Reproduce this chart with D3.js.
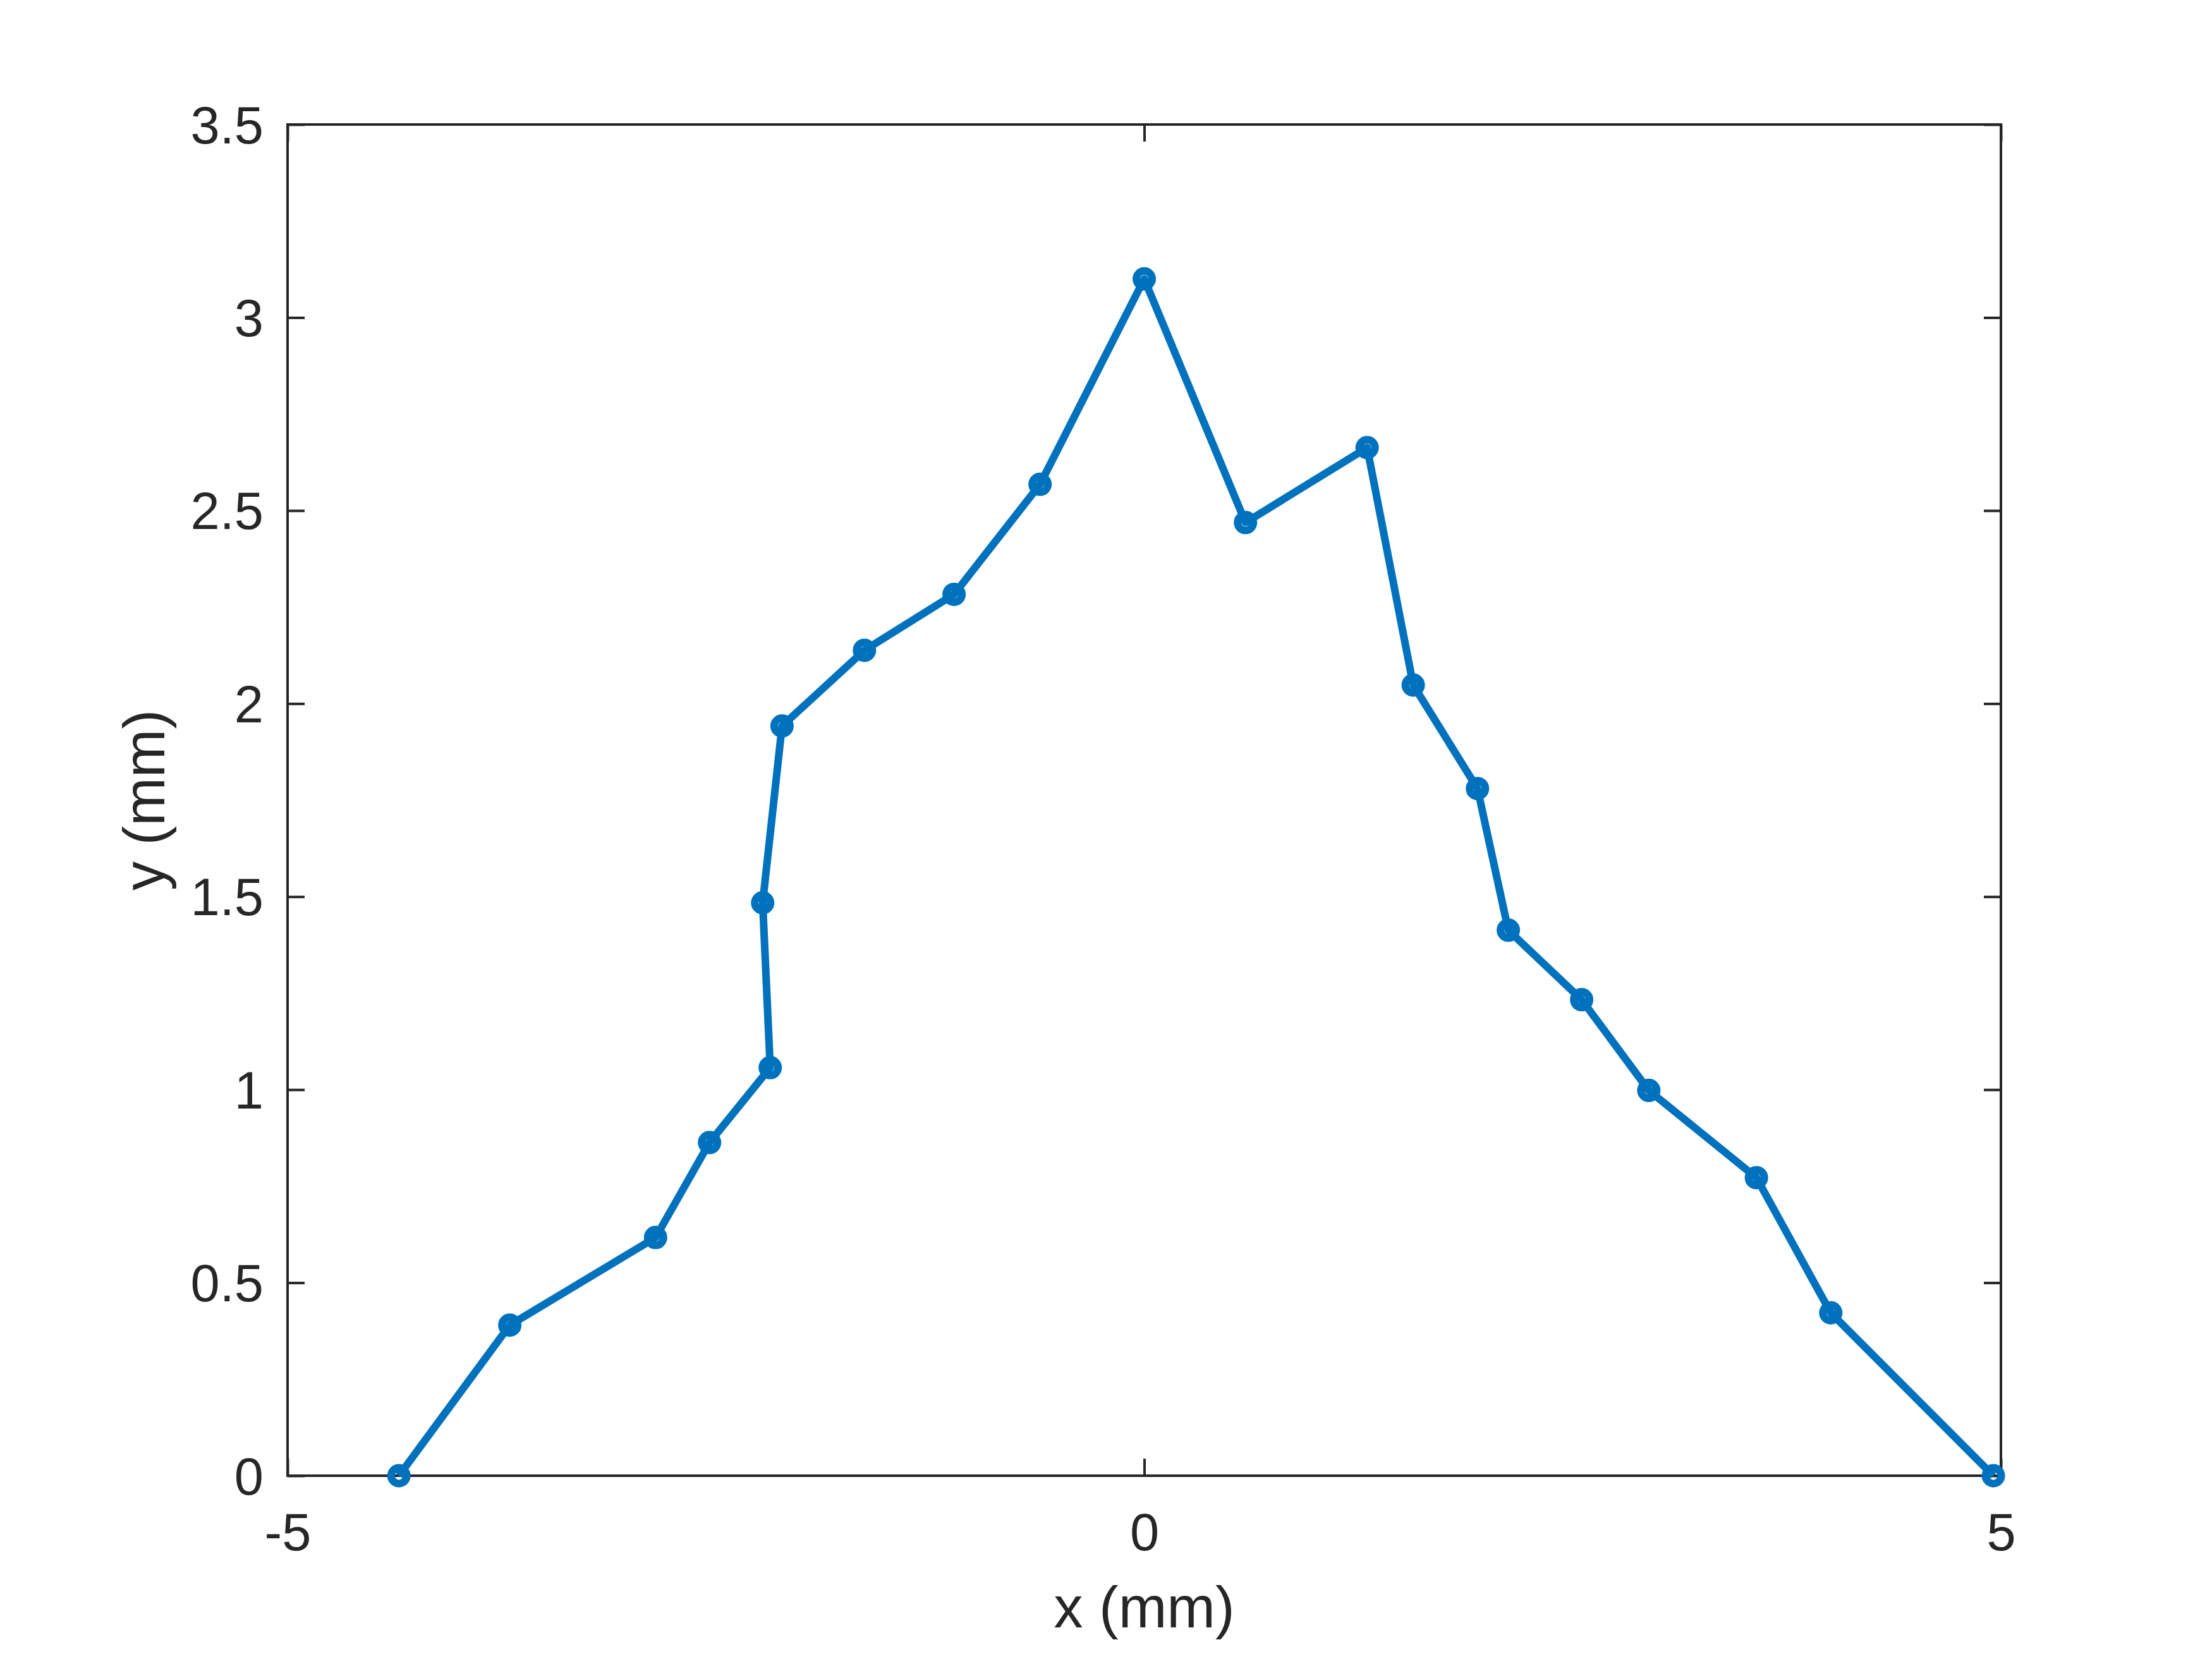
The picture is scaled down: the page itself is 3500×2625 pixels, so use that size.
<!DOCTYPE html>
<html>
<head>
<meta charset="utf-8">
<script src="https://cdn.jsdelivr.net/npm/d3@7"></script>
<style>
  html, body { margin: 0; padding: 0; background: #ffffff; }
  svg { display: block; }
</style>
</head>
<body>
<div id="chart"></div>
<script>
// ---- data ----
const xValues = [-4.350, -3.703, -2.852, -2.537, -2.183, -2.227, -2.114, -1.633, -1.110, -0.608,
                 0.000, 0.591, 1.301, 1.570, 1.945, 2.125, 2.553, 2.945, 3.573, 4.007, 4.956];
const yValues = [0.000, 0.390, 0.617, 0.863, 1.057, 1.484, 1.942, 2.138, 2.283, 2.568,
                 3.100, 2.469, 2.663, 2.048, 1.780, 1.413, 1.233, 0.998, 0.772, 0.422, 0.000];
const xTicks = [-5, 0, 5];
const yTicks = [0, 0.5, 1, 1.5, 2, 2.5, 3, 3.5];
const xLabel = "x (mm)";
const yLabel = "y (mm)";

// ---- layout ----
const W = 3500, H = 2625;
const pL = 455, pR = 3166, pT = 197, pB = 2335;
const axisColor = "#262626";
const lineColor = "#0072BD";
const font = "Helvetica, Arial, 'Liberation Sans', sans-serif";
const tickLen = 27;

const svg = d3.select("#chart").append("svg")
  .attr("width", W).attr("height", H);

const x = d3.scaleLinear().domain([-5, 5]).range([pL, pR]);
const y = d3.scaleLinear().domain([0, 3.5]).range([pB, pT]);

const axes = svg.append("g");

const gxb = axes.append("g").attr("transform", `translate(0,${pB})`)
  .call(d3.axisBottom(x).tickValues(xTicks).tickSize(-tickLen).tickFormat(d => String(d)));
const gxt = axes.append("g").attr("transform", `translate(0,${pT})`)
  .call(d3.axisTop(x).tickValues(xTicks).tickSize(-tickLen).tickFormat(""));
const gyl = axes.append("g").attr("transform", `translate(${pL},0)`)
  .call(d3.axisLeft(y).tickValues(yTicks).tickSize(-tickLen).tickFormat(d => String(d)));
const gyr = axes.append("g").attr("transform", `translate(${pR},0)`)
  .call(d3.axisRight(y).tickValues(yTicks).tickSize(-tickLen).tickFormat(""));

[gxb, gxt, gyl, gyr].forEach(g => {
  g.select(".domain").remove();
  g.selectAll(".tick line").attr("stroke", axisColor).attr("stroke-width", 4);
  g.selectAll("text").attr("fill", axisColor).attr("font-family", font).attr("font-size", 83);
});
gxb.selectAll("text").attr("dy", null).attr("y", 118);
gyl.selectAll("text").attr("x", -38).attr("dy", "0.35em");

// box
axes.append("rect")
  .attr("x", pL).attr("y", pT)
  .attr("width", pR - pL).attr("height", pB - pT)
  .attr("fill", "none").attr("stroke", axisColor).attr("stroke-width", 4);

// axis labels
svg.append("text")
  .attr("x", (pL + pR) / 2).attr("y", 2575)
  .attr("text-anchor", "middle")
  .attr("font-family", font).attr("font-size", 92).attr("fill", axisColor)
  .text(xLabel);
svg.append("text")
  .attr("transform", `translate(260,${(pT + pB) / 2}) rotate(-90)`)
  .attr("text-anchor", "middle")
  .attr("font-family", font).attr("font-size", 92).attr("fill", axisColor)
  .text(yLabel);

// data
const pts = xValues.map((v, i) => ({ x: v, y: yValues[i] }));
const line = d3.line().x(d => x(d.x)).y(d => y(d.y));
svg.append("path")
  .datum(pts)
  .attr("d", line)
  .attr("fill", "none")
  .attr("stroke", lineColor)
  .attr("stroke-width", 12)
  .attr("stroke-linejoin", "round");

svg.append("g").selectAll("circle")
  .data(pts)
  .join("circle")
  .attr("cx", d => x(d.x))
  .attr("cy", d => y(d.y))
  .attr("r", 12.5)
  .attr("fill", "none")
  .attr("stroke", lineColor)
  .attr("stroke-width", 12);
</script>
</body>
</html>
